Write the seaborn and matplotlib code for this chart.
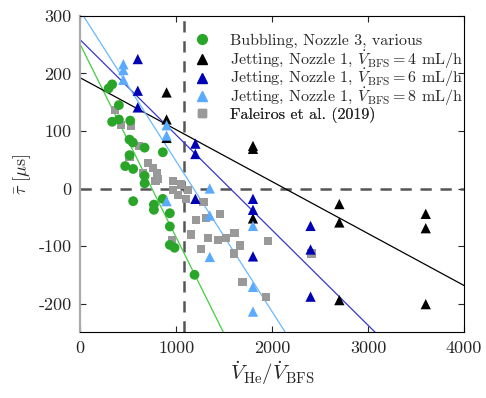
import numpy as np
import pandas as pd
import matplotlib
matplotlib.use("Agg")
import matplotlib.pyplot as plt
import seaborn as sns
from matplotlib.lines import Line2D

# ---- data ----
bub_x = [296, 333, 403, 333, 403, 521, 514, 549, 671, 861, 514, 469, 552, 671, 671,
         552, 768, 768, 934, 934, 934, 983, 1191, 860]
bub_y = [174, 181, 145, 116, 120, 118, 85, 80, 71, 63, 58, 39, 34, 22, 9,
         -22, -28, -37, -43, -66, -98, -103, -150, -18]

j4_x = [900, 900, 900, 1800, 1800, 1800, 2700, 2700, 2700, 3600, 3600, 3600]
j4_y = [167, 120, 88, 74, 69, -52, -27, -59, -194, -44, -69, -201]

j6_x = [600, 600, 600, 1200, 1200, 1200, 1800, 1800, 1800, 2400, 2400, 2400]
j6_y = [225, 170, 141, 78, 60, -18, -18, -37, -118, -65, -106, -188]

j8_x = [450, 450, 450, 900, 900, 900, 1350, 1350, 1350, 1800, 1800, 1800]
j8_y = [216, 206, 189, 110, 92, -22, 0, -47, -119, -65, -171, -214]

fal_x = [358, 425, 530, 610, 514, 706, 757, 800, 650, 811, 785, 968, 1054, 968, 1122,
         1015, 1105, 1285, 1210, 1312, 1455, 1153, 1330, 1438, 1516, 1608, 1663, 1606,
         1259, 1960, 1691, 1932, 958, 2410]
fal_y = [136, 111, 108, 74, 54, 45, 36, 27, 27, 16, 13, 13, 7, -2, -3,
         -12, -18, -24, -54, -51, -44, -80, -86, -89, -86, -78, -99, -113,
         -105, -92, -162, -188, -89, -113]

labels = ["Bubbling, Nozzle 3, various",
          r"Jetting, Nozzle 1, $\dot{V}_{\mathrm{BFS}} = 4$ mL/h",
          r"Jetting, Nozzle 1, $\dot{V}_{\mathrm{BFS}} = 6$ mL/h",
          r"Jetting, Nozzle 1, $\dot{V}_{\mathrm{BFS}} = 8$ mL/h",
          "Faleiros et al. (2019)"]

transition_x = 1080
x_ticks = [0, 1000, 2000, 3000, 4000]
y_ticks = [-200, -100, 0, 100, 200, 300]

# ---- style ----
sns.set_style("ticks")
plt.rcParams["font.family"] = ["cmr10", "DejaVu Serif"]
plt.rcParams["mathtext.fontset"] = "cm"
plt.rcParams["axes.unicode_minus"] = False
plt.rcParams["axes.formatter.use_mathtext"] = False

c_green, c_green_line = "#2aa52a", "#44cc44"
c_black = "#000000"
c_dblue, c_dblue_line = "#0000b4", "#3838c8"
c_lblue, c_lblue_line = "#5aaaff", "#6ab8ff"
c_grey = "#999999"

fig = plt.figure(figsize=(4.86, 3.98), dpi=100)
ax = fig.add_axes([0.165, 0.165, 0.79, 0.795])
ax.set_xlim(0, 4000)
ax.set_ylim(-250, 300)

# reference lines
ax.axhline(0, color="#555555", lw=1.8, ls=(0, (4.5, 3.5)), zorder=1)
ax.axvline(transition_x, color="#555555", lw=1.8, ls=(0, (4.5, 3.5)), zorder=1)

# least-squares fits
for xs, ys, col in [(bub_x, bub_y, c_green_line), (j4_x, j4_y, "#000000"),
                    (j6_x, j6_y, c_dblue_line), (j8_x, j8_y, c_lblue_line)]:
    sns.regplot(x=np.array(xs, float), y=np.array(ys, float), ax=ax, scatter=False,
                ci=None, truncate=False, line_kws=dict(color=col, lw=0.9, zorder=2))

ax.set_xlim(0, 4000)
ax.set_ylim(-250, 300)

kw = dict(ax=ax, edgecolor="none", zorder=3, legend=False)
sns.scatterplot(x=fal_x, y=fal_y, marker="s", s=34, color=c_grey, **kw)
sns.scatterplot(x=bub_x, y=bub_y, marker="o", s=50, color=c_green, **kw)
sns.scatterplot(x=j4_x, y=j4_y, marker="^", s=55, color=c_black, **kw)
sns.scatterplot(x=j6_x, y=j6_y, marker="^", s=55, color=c_dblue, **kw)
sns.scatterplot(x=j8_x, y=j8_y, marker="^", s=55, color=c_lblue, **kw)

handles = [Line2D([], [], ls="none", marker="o", ms=7, color=c_green),
           Line2D([], [], ls="none", marker="^", ms=7.5, color=c_black),
           Line2D([], [], ls="none", marker="^", ms=7.5, color=c_dblue),
           Line2D([], [], ls="none", marker="^", ms=7.5, color=c_lblue),
           Line2D([], [], ls="none", marker="s", ms=6, color=c_grey)]

# one legend row per entry so that rows are evenly spaced
row_top, row_step = 0.921, 0.0585
for i, (h, lab) in enumerate(zip(handles, labels)):
    leg = ax.legend([h], [lab], loc="center left",
                    bbox_to_anchor=(0.28, row_top - i * row_step),
                    frameon=False, fontsize=11.5, handlelength=1.0,
                    handletextpad=1.25, borderaxespad=0)
    ax.add_artist(leg)

ax.set_xticks(x_ticks)
ax.set_yticks(y_ticks)
ax.tick_params(direction="in", top=True, right=True, labelsize=13, length=4,
               width=0.8, pad=6)
for s in ["top", "right", "bottom"]:
    ax.spines[s].set_color("black")
    ax.spines[s].set_linewidth(0.8)
ax.spines["left"].set_color("#aaaaaa")
ax.spines["left"].set_linewidth(1.6)

ax.set_xlabel(r"$\dot{V}_{\mathrm{He}}/\dot{V}_{\mathrm{BFS}}$", fontsize=15, labelpad=2)
ax.set_ylabel(r"$\bar{\tau}\ [\mu\mathrm{s}]$", fontsize=13, labelpad=4)

fig.savefig("out.png", dpi=100)
